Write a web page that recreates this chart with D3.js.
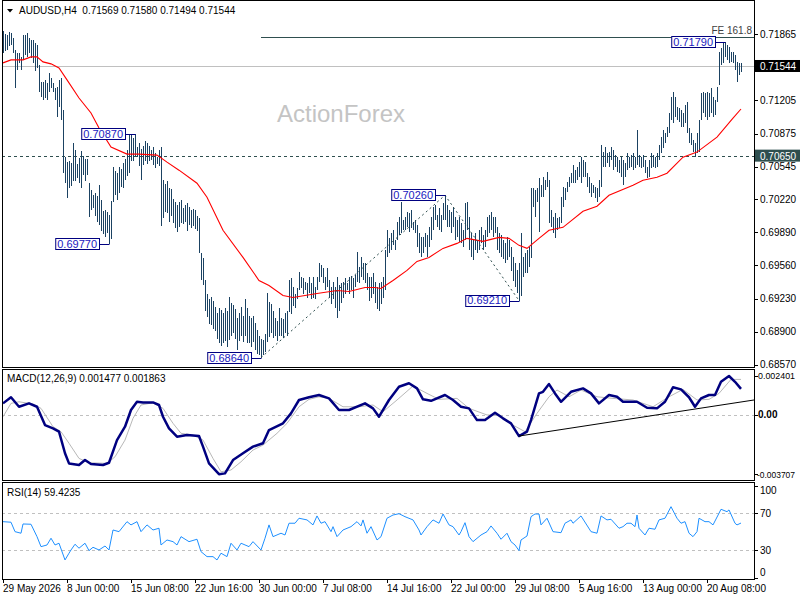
<!DOCTYPE html>
<html><head><meta charset="utf-8">
<script src="https://cdn.jsdelivr.net/npm/d3@7"></script>
<style>
body{margin:0;background:#fff}
svg{display:block}
text{font-family:"Liberation Sans",Arial,sans-serif}
</style>
</head><body>
<svg id="c" width="800" height="600"></svg>
<script>
// ---------------- data ----------------
const symbolLabel = "AUDUSD,H4";
const lastOHLC = [0.71569, 0.71580, 0.71494, 0.71544];
const timeTickIdx = [0, 32, 64, 96, 128, 160, 192, 224, 256, 288, 320, 352];
const timeTickLabels = ["29 May 2026", "8 Jun 00:00", "15 Jun 08:00", "22 Jun 16:00", "30 Jun 00:00", "7 Jul 08:00",
  "14 Jul 16:00", "22 Jul 00:00", "29 Jul 08:00", "5 Aug 16:00", "13 Aug 00:00", "20 Aug 08:00"];
const priceTicks = [0.71865, 0.71205, 0.70875, 0.70545, 0.70220, 0.69890, 0.69560, 0.69230, 0.68900, 0.68570];
const priceRange = [0.68570, 0.71865];

const barHigh = [
0.7190,0.7187,0.7186,0.7189,0.7188,0.7183,0.7171,0.7168,0.7168,0.7164,
0.7186,0.7186,0.7188,0.7183,0.7181,0.7181,0.7178,0.7176,0.7156,0.7139,
0.7139,0.7141,0.7138,0.7148,0.7143,0.7138,0.7133,0.7134,0.7141,0.7143,
0.7111,0.7064,0.7059,0.7060,0.7058,0.7078,0.7071,0.7057,0.7063,0.7070,
0.7065,0.7062,0.7062,0.7038,0.7031,0.7026,0.7028,0.7025,0.7036,0.7021,
0.7010,0.7011,0.7009,0.7006,0.7020,0.7054,0.7050,0.7048,0.7054,0.7052,
0.7058,0.7062,0.7071,0.7086,0.7087,0.7083,0.7087,0.7074,0.7078,0.7072,
0.7075,0.7080,0.7078,0.7075,0.7071,0.7074,0.7068,0.7064,0.7071,0.7074,
0.7041,0.7037,0.7040,0.7033,0.7032,0.7022,0.7019,0.7016,0.7019,0.7021,
0.7013,0.7016,0.7018,0.7014,0.7011,0.7012,0.7011,0.7005,0.7003,0.6968,
0.6963,0.6941,0.6928,0.6923,0.6925,0.6921,0.6915,0.6909,0.6914,0.6912,
0.6909,0.6914,0.6911,0.6925,0.6919,0.6917,0.6913,0.6904,0.6909,0.6915,
0.6906,0.6923,0.6914,0.6906,0.6904,0.6906,0.6899,0.6892,0.6886,0.6883,
0.6882,0.6888,0.6929,0.6920,0.6918,0.6911,0.6904,0.6901,0.6914,0.6904,
0.6903,0.6909,0.6911,0.6941,0.6943,0.6934,0.6928,0.6933,0.6949,0.6944,
0.6943,0.6939,0.6938,0.6944,0.6938,0.6944,0.6934,0.6944,0.6958,0.6956,
0.6953,0.6944,0.6953,0.6941,0.6934,0.6939,0.6934,0.6944,0.6936,0.6938,
0.6939,0.6943,0.6938,0.6944,0.6945,0.6943,0.6946,0.6969,0.6954,0.6964,
0.6958,0.6958,0.6948,0.6944,0.6944,0.6948,0.6939,0.6934,0.6938,0.6939,
0.6944,0.6971,0.6991,0.6983,0.6988,0.6991,0.6981,0.6999,0.7004,0.7019,
0.7001,0.7004,0.7009,0.7008,0.7011,0.6999,0.7001,0.6996,0.6988,0.6984,
0.6984,0.6988,0.6986,0.6994,0.7004,0.7014,0.7016,0.7006,0.7013,0.7006,
0.7018,0.7026,0.7016,0.7011,0.7009,0.7014,0.7004,0.7001,0.7004,0.6998,
0.6991,0.7018,0.7019,0.7004,0.6988,0.6981,0.6988,0.6981,0.6991,0.6994,
0.6986,0.6991,0.7004,0.7006,0.7009,0.7004,0.7004,0.6994,0.6988,0.6986,
0.6981,0.6978,0.6984,0.6981,0.6974,0.6964,0.6958,0.6951,0.6958,0.6988,
0.6964,0.6968,0.6971,0.6974,0.7033,0.7033,0.7031,0.7033,0.7043,0.7036,
0.7044,0.7041,0.7049,0.7041,0.7011,0.7004,0.7008,0.7003,0.7004,0.7024,
0.7034,0.7033,0.7039,0.7044,0.7048,0.7056,0.7051,0.7054,0.7059,0.7064,
0.7061,0.7059,0.7048,0.7044,0.7038,0.7036,0.7034,0.7033,0.7041,0.7076,
0.7069,0.7074,0.7068,0.7069,0.7074,0.7071,0.7066,0.7064,0.7061,0.7064,
0.7061,0.7058,0.7068,0.7064,0.7066,0.7068,0.7064,0.7091,0.7066,0.7064,
0.7066,0.7061,0.7054,0.7061,0.7068,0.7066,0.7064,0.7068,0.7076,0.7084,
0.7091,0.7088,0.7094,0.7108,0.7124,0.7129,0.7124,0.7114,0.7113,0.7111,
0.7108,0.7116,0.7119,0.7093,0.7088,0.7081,0.7078,0.7088,0.7101,0.7128,
0.7129,0.7128,0.7129,0.7128,0.7133,0.7124,0.7121,0.7134,0.7169,0.7173,
0.7178,0.7179,0.7176,0.7174,0.7169,0.7169,0.7166,0.7159,0.7158,0.7158];

const barLow = [
0.7168,0.7170,0.7171,0.7175,0.7176,0.7168,0.7133,0.7151,0.7158,0.7151,
0.7161,0.7166,0.7164,0.7168,0.7163,0.7158,0.7150,0.7153,0.7129,0.7124,
0.7121,0.7123,0.7121,0.7129,0.7133,0.7129,0.7121,0.7104,0.7114,0.7101,
0.7048,0.7038,0.7023,0.7033,0.7035,0.7040,0.7040,0.7043,0.7038,0.7033,
0.7046,0.7040,0.7046,0.7004,0.7011,0.7013,0.7005,0.6999,0.6996,0.6990,
0.6987,0.6984,0.6988,0.6977,0.6982,0.7019,0.7026,0.7021,0.7028,0.7034,
0.7033,0.7041,0.7045,0.7048,0.7060,0.7060,0.7065,0.7064,0.7055,0.7041,
0.7056,0.7060,0.7057,0.7060,0.7061,0.7056,0.7053,0.7057,0.7055,0.6995,
0.7003,0.7009,0.7008,0.6999,0.7005,0.6998,0.6993,0.6989,0.6994,0.6998,
0.6997,0.6999,0.6990,0.6996,0.6993,0.6995,0.6992,0.6990,0.6968,0.6941,
0.6936,0.6911,0.6905,0.6898,0.6897,0.6893,0.6891,0.6883,0.6879,0.6876,
0.6879,0.6881,0.6875,0.6882,0.6886,0.6889,0.6883,0.6872,0.6881,0.6886,
0.6880,0.6886,0.6879,0.6879,0.6875,0.6880,0.6872,0.6868,0.6867,0.6864,
0.6867,0.6870,0.6880,0.6885,0.6889,0.6884,0.6886,0.6881,0.6886,0.6886,
0.6884,0.6889,0.6886,0.6910,0.6908,0.6916,0.6914,0.6923,0.6931,0.6933,
0.6928,0.6931,0.6924,0.6929,0.6923,0.6924,0.6923,0.6931,0.6939,0.6944,
0.6938,0.6931,0.6934,0.6924,0.6918,0.6923,0.6914,0.6904,0.6911,0.6919,
0.6924,0.6928,0.6931,0.6928,0.6931,0.6924,0.6934,0.6939,0.6938,0.6944,
0.6941,0.6938,0.6931,0.6921,0.6924,0.6928,0.6919,0.6913,0.6911,0.6918,
0.6924,0.6931,0.6964,0.6968,0.6971,0.6976,0.6971,0.6981,0.6986,0.6988,
0.6991,0.6991,0.6994,0.6989,0.6993,0.6991,0.6988,0.6974,0.6968,0.6964,
0.6968,0.6974,0.6964,0.6974,0.6981,0.6991,0.7001,0.6994,0.6991,0.6989,
0.7001,0.7001,0.6994,0.6994,0.6988,0.6994,0.6981,0.6984,0.6979,0.6978,
0.6974,0.6981,0.6991,0.6971,0.6964,0.6961,0.6971,0.6968,0.6971,0.6978,
0.6971,0.6974,0.6984,0.6988,0.6991,0.6984,0.6988,0.6971,0.6968,0.6964,
0.6962,0.6958,0.6961,0.6964,0.6950,0.6940,0.6934,0.6929,0.6921,0.6926,
0.6944,0.6948,0.6948,0.6954,0.6963,0.7014,0.7004,0.7019,0.6989,0.7024,
0.7024,0.7031,0.7034,0.6998,0.6994,0.6988,0.6983,0.6991,0.6993,0.6998,
0.7014,0.7021,0.7029,0.7034,0.7038,0.7038,0.7038,0.7041,0.7044,0.7038,
0.7044,0.7044,0.7034,0.7028,0.7024,0.7028,0.7023,0.7019,0.7024,0.7034,
0.7054,0.7054,0.7058,0.7054,0.7061,0.7051,0.7054,0.7049,0.7048,0.7044,
0.7036,0.7044,0.7051,0.7053,0.7054,0.7051,0.7053,0.7056,0.7054,0.7053,
0.7054,0.7048,0.7043,0.7044,0.7053,0.7054,0.7053,0.7054,0.7061,0.7068,
0.7073,0.7078,0.7084,0.7088,0.7101,0.7098,0.7104,0.7101,0.7099,0.7094,
0.7094,0.7098,0.7088,0.7078,0.7076,0.7069,0.7064,0.7068,0.7069,0.7101,
0.7108,0.7104,0.7101,0.7104,0.7108,0.7104,0.7106,0.7119,0.7136,0.7156,
0.7158,0.7164,0.7161,0.7158,0.7159,0.7158,0.7151,0.7139,0.7146,0.7149];

// moving average (red), read at selected bars
const maIdx = [0,4,10,14,17,20,24,28,32,38,44,48,54,62,68,77,82,88,97,102,110,120,128,133,140,145,157,167,173,181,186,189,195,202,207,213,220,227,232,240,248,253,258,262,268,273,280,290,297,303,315,320,327,332,340,347,357,365,369];
const maVal = [0.7158,0.7161,0.7161,0.7164,0.7164,0.7159,0.7157,0.7153,0.7141,0.7123,0.7108,0.7093,0.7074,0.7067,0.7067,0.7066,0.7059,0.7051,0.7038,0.7024,0.6991,0.6964,0.6941,0.6936,0.6926,0.6924,0.6928,0.6931,0.6930,0.6934,0.6934,0.6933,0.6941,0.6951,0.6960,0.6964,0.6973,0.6978,0.6983,0.6980,0.6984,0.6983,0.6976,0.6973,0.6983,0.6991,0.6994,0.7010,0.7015,0.7026,0.7036,0.7041,0.7044,0.7048,0.7064,0.7069,0.7084,0.7103,0.7112];

// swing labels and zigzag
const pivotIdx = [66, 53, 129, 221, 258, 361];
const pivotVal = [0.70870, 0.69770, 0.68640, 0.70260, 0.69210, 0.71790];
const zigzagIdx = [129, 221, 258];
const zigzagVal = [0.68640, 0.70260, 0.69210];
const feLevel = 0.7184, feStartIdx = 129, feLabel = "FE 161.8";
const supportLevel = 0.70650;
const bidPrice = 0.71544;

// MACD(12,26,9)
const macdRange = [-0.003707, 0.002401];
const macdIdx = [0,4,8,13,17,21,25,28,31,33,38,41,44,50,53,57,61,64,67,70,75,78,80,83,87,92,98,100,103,108,111,115,120,125,130,133,140,144,148,153,158,163,168,173,181,185,188,193,198,203,207,210,214,221,225,229,233,237,241,246,250,254,258,262,264,268,270,273,276,279,284,290,294,298,303,307,310,317,322,327,331,335,339,343,346,349,353,356,359,363,366,369];
const macdVal = [0.00070,0.00108,0.00049,0.00070,0.00049,-0.00065,-0.00085,-0.00106,-0.00240,-0.00303,-0.00313,-0.00282,-0.00307,-0.00313,-0.00299,-0.00158,-0.00075,0.00029,0.00080,0.00076,0.00076,0.00060,-0.00013,-0.00085,-0.00137,-0.00127,-0.00133,-0.00199,-0.00303,-0.00370,-0.00365,-0.00282,-0.00240,-0.00199,-0.00178,-0.00096,-0.00054,0.00008,0.00091,0.00108,0.00122,0.00101,0.00029,0.00029,0.00070,0.00039,-0.00013,0.00091,0.00173,0.00195,0.00163,0.00095,0.00086,0.00122,0.00091,0.00049,0.00039,-0.00034,-0.00034,0.00012,-0.00023,-0.00054,-0.00133,-0.00106,-0.00034,0.00132,0.00142,0.00190,0.00132,0.00080,0.00142,0.00163,0.00132,0.00070,0.00122,0.00111,0.00080,0.00080,0.00043,0.00039,0.00080,0.00170,0.00157,0.00108,0.00049,0.00101,0.00122,0.00122,0.00204,0.00240,0.00204,0.00160];
const sigIdx = [0,4,8,15,19,25,29,33,38,43,52,56,61,65,69,75,80,85,89,95,100,105,109,114,119,125,130,137,142,148,153,158,163,170,178,185,190,197,205,212,218,227,233,242,248,255,261,267,273,277,283,289,297,305,315,325,333,340,347,353,358,364,369];
const sigVal = [-0.00013,0.00070,0.00080,0.00066,0.00039,-0.00075,-0.00106,-0.00178,-0.00272,-0.00299,-0.00303,-0.00262,-0.00158,-0.00023,0.00060,0.00074,0.00039,-0.00054,-0.00116,-0.00127,-0.00158,-0.00272,-0.00355,-0.00344,-0.00293,-0.00220,-0.00189,-0.00116,-0.00054,0.00049,0.00095,0.00111,0.00101,0.00049,0.00049,0.00060,0.00018,0.00091,0.00178,0.00132,0.00095,0.00101,0.00039,-0.00002,-0.00002,-0.00065,-0.00106,0.00008,0.00111,0.00153,0.00111,0.00153,0.00111,0.00101,0.00091,0.00049,0.00111,0.00157,0.00091,0.00095,0.00132,0.00219,0.00219];
const macdTrendIdx = [258, 375.5];
const macdTrendVal = [-0.00133, 0.00091];
const macdHeader = "MACD(12,26,9) 0.001477 0.001863";

// RSI(14)
const rsiIdx = [0,4,6,9,10,14,17,19,22,24,26,28,31,33,34,36,38,41,43,45,48,51,53,55,58,62,64,67,69,72,75,78,79,82,85,87,89,93,97,99,102,105,107,109,112,114,117,119,123,125,129,131,133,135,139,141,143,146,148,152,155,157,159,161,164,165,167,170,174,177,179,180,182,184,187,189,192,195,198,201,205,208,209,212,215,218,220,223,225,228,229,231,233,235,239,242,244,247,249,252,254,256,258,259,262,264,266,268,269,272,275,279,281,284,285,289,294,297,299,302,304,308,310,312,314,316,317,318,321,323,326,328,331,334,337,339,341,343,345,347,348,351,353,355,358,359,362,363,366,367,369];
const rsiVal = [60.9,60.3,50.1,48.4,58.4,58.1,44.7,33.9,35.7,43.0,35.7,37.6,19.5,26.8,30.3,36.5,32.2,37.6,29.6,33.2,30.3,34.6,30.3,51.9,50.1,60.9,57.4,60.9,50.1,57.4,51.9,53.8,35.7,41.1,39.3,35.7,44.7,39.3,41.9,28.5,23.1,23.1,19.5,26.8,23.1,37.6,30.3,37.6,33.9,39.3,30.3,43.0,57.4,44.7,48.4,46.5,59.2,59.2,64.6,62.8,57.4,67.1,59.2,60.9,50.1,55.5,44.7,51.9,55.5,60.9,56.3,62.8,48.4,55.5,41.1,44.7,64.6,68.1,69.5,66.3,62.8,51.9,46.5,55.5,62.8,59.2,69.2,57.4,55.5,46.5,50.1,59.8,44.7,39.3,46.5,50.1,56.3,48.4,41.9,48.4,39.3,35.7,29.6,41.1,45.4,66.3,69.2,69.2,57.4,64.6,50.1,49.0,59.2,62.8,59.2,67.1,50.1,48.4,67.1,62.8,63.5,53.8,55.5,59.2,59.2,55.5,68.1,53.8,46.5,53.8,52.7,62.8,64.6,77.1,64.6,59.2,60.9,48.4,44.7,50.1,64.6,60.9,60.9,57.4,70.0,74.3,71.7,73.6,59.2,57.4,59.4];
const rsiLevels = [70, 30];
const rsiTicks = [100, 70, 30, 0];
const rsiHeader = "RSI(14) 59.4235";

// ---------------- drawing ----------------
const svg = d3.select("#c");
const L = 2, R = 754;
const nBars = barHigh.length;
const x = d3.scaleLinear().domain([0, nBars - 1]).range([3, 3 + 2 * (nBars - 1)]);
const yP = d3.scaleLinear().domain(priceRange).range([364.7, 34.3]);
const yM = d3.scaleLinear().domain(macdRange).range([474.3, 376]);
const yR = d3.scaleLinear().domain([0, 100]).range([578, 485.5]);
const crisp = v => Math.round(v) + 0.5;
const barColor = "#1b4262";
const axisFont = 10;

svg.append("rect").attr("width", 800).attr("height", 600).attr("fill", "#fff");

// watermark
svg.append("text").attr("x", 277).attr("y", 121.5).attr("font-size", 24)
  .attr("fill", "#c4c4c4").text("ActionForex");

// header
svg.append("path").attr("d", "M7,9L13,9L10,12.5Z").attr("fill", "#000");
svg.append("text").attr("x", 19).attr("y", 14).attr("font-size", axisFont).attr("fill", "#000")
  .attr("xml:space", "preserve")
  .text(symbolLabel + "  " + lastOHLC.map(v => v.toFixed(5)).join(" "));

// main panel horizontal lines
svg.append("line").attr("x1", L).attr("x2", R)
  .attr("y1", crisp(yP(bidPrice))).attr("y2", crisp(yP(bidPrice)))
  .attr("stroke", "#c0c0c0").attr("stroke-width", 1);
svg.append("line").attr("x1", L).attr("x2", R)
  .attr("y1", crisp(yP(supportLevel))).attr("y2", crisp(yP(supportLevel)))
  .attr("stroke", "#2f4f4f").attr("stroke-width", 1).attr("stroke-dasharray", "3,3");
svg.append("line").attr("x1", x(feStartIdx)).attr("x2", R)
  .attr("y1", crisp(yP(feLevel))).attr("y2", crisp(yP(feLevel)))
  .attr("stroke", "#2f4f4f").attr("stroke-width", 1);
svg.append("text").attr("x", 752).attr("y", yP(feLevel) - 3).attr("text-anchor", "end")
  .attr("font-size", axisFont).attr("fill", "#404040").text(feLabel);

// bars
svg.append("g").attr("shape-rendering", "crispEdges").selectAll("line")
  .data(d3.range(nBars)).join("line")
  .attr("x1", i => crisp(x(i))).attr("x2", i => crisp(x(i)))
  .attr("y1", i => Math.round(yP(barHigh[i])))
  .attr("y2", i => Math.max(Math.round(yP(barLow[i])), Math.round(yP(barHigh[i])) + 1))
  .attr("stroke", barColor).attr("stroke-width", 1);

// moving average
const maPts = maIdx.map((d, k) => [d, maVal[k]]);
svg.append("path").datum(maPts)
  .attr("d", d3.line().x(d => x(d[0])).y(d => yP(d[1])))
  .attr("fill", "none").attr("stroke", "#ff0000").attr("stroke-width", 1.1);

// zigzag
const zzPts = zigzagIdx.map((d, k) => [d, zigzagVal[k]]);
svg.append("path").datum(zzPts)
  .attr("d", d3.line().x(d => x(d[0])).y(d => yP(d[1])))
  .attr("fill", "none").attr("stroke", "#2f4f4f").attr("stroke-width", 1).attr("stroke-dasharray", "2,3");

// pivot labels
pivotIdx.forEach((pi, k) => {
  const bx = x(pi), by = yP(pivotVal[k]);
  const g = svg.append("g");
  const t = g.append("text").attr("font-size", 11).attr("fill", "#2020c0")
    .attr("text-anchor", "end").attr("dy", "0.36em").text(pivotVal[k].toFixed(5));
  const tw = t.node().getComputedTextLength();
  const right = Math.round(bx - 10);
  t.attr("x", right - 2).attr("y", by);
  g.insert("rect", "text").attr("x", right - tw - 4 + 0.5).attr("y", Math.round(by - 6) + 0.5)
    .attr("width", tw + 4).attr("height", 11).attr("fill", "#fff")
    .attr("stroke", "#000080").attr("stroke-width", 1);
  g.append("line").attr("x1", right + 0.5).attr("x2", crisp(bx))
    .attr("y1", crisp(by)).attr("y2", crisp(by)).attr("stroke", "#000080").attr("stroke-width", 1);
});

// MACD panel
svg.append("line").attr("x1", L).attr("x2", R).attr("y1", crisp(yM(0))).attr("y2", crisp(yM(0)))
  .attr("stroke", "#c0c0c0").attr("stroke-dasharray", "3,3");
const sigPts = sigIdx.map((d, k) => [d, sigVal[k]]);
const macdPts = macdIdx.map((d, k) => [d, macdVal[k]]);
const lineM = d3.line().x(d => x(d[0])).y(d => yM(d[1]));
svg.append("path").datum(sigPts).attr("d", lineM).attr("fill", "none")
  .attr("stroke", "#b8b8b8").attr("stroke-width", 1);
svg.append("path").datum(macdPts).attr("d", lineM).attr("fill", "none")
  .attr("stroke", "#000080").attr("stroke-width", 2.5).attr("stroke-linejoin", "round");
svg.append("path").datum(macdTrendIdx.map((d, k) => [d, macdTrendVal[k]])).attr("d", lineM)
  .attr("fill", "none").attr("stroke", "#000").attr("stroke-width", 1);
svg.append("text").attr("x", 7).attr("y", 382).attr("font-size", axisFont).text(macdHeader);

// RSI panel
rsiLevels.forEach(v => {
  svg.append("line").attr("x1", L).attr("x2", R).attr("y1", crisp(yR(v))).attr("y2", crisp(yR(v)))
    .attr("stroke", "#c0c0c0").attr("stroke-dasharray", "3,3");
});
const rsiPts = rsiIdx.map((d, k) => [d, rsiVal[k]]);
svg.append("path").datum(rsiPts).attr("d", d3.line().x(d => x(d[0])).y(d => yR(d[1])))
  .attr("fill", "none").attr("stroke", "#1e90ff").attr("stroke-width", 1);
svg.append("text").attr("x", 7).attr("y", 496).attr("font-size", axisFont).text(rsiHeader);

// panel borders
[[0, 367], [369, 480], [482, 579]].forEach(([t, b]) => {
  svg.append("rect").attr("x", L + 0.5).attr("y", t + 0.5).attr("width", R - L).attr("height", b - t)
    .attr("fill", "none").attr("stroke", "#000").attr("stroke-width", 1);
});

// price axis
const axisG = svg.append("g");
priceTicks.forEach(v => {
  const yy = yP(v);
  axisG.append("line").attr("x1", R).attr("x2", R + 4).attr("y1", crisp(yy)).attr("y2", crisp(yy)).attr("stroke", "#000");
  axisG.append("text").attr("x", 760).attr("y", yy).attr("dy", "0.35em").attr("font-size", axisFont).text(v.toFixed(5));
});
function priceTag(v, bg) {
  const yy = yP(v);
  axisG.append("rect").attr("x", 755).attr("y", yy - 6.5).attr("width", 45).attr("height", 12).attr("fill", bg);
  axisG.append("text").attr("x", 760).attr("y", yy).attr("dy", "0.35em").attr("font-size", axisFont)
    .attr("fill", "#fff").text(v.toFixed(5));
}
priceTag(bidPrice, "#000");
priceTag(supportLevel, "#2f4f4f");

// MACD axis
[macdRange[1], 0, macdRange[0]].forEach(v => {
  const yy = yM(v);
  axisG.append("line").attr("x1", R).attr("x2", R + 4).attr("y1", crisp(yy)).attr("y2", crisp(yy)).attr("stroke", "#000");
  const t = axisG.append("text").attr("x", v < 0 ? 757 : 758).attr("y", yy).attr("dy", "0.35em")
    .attr("font-size", v === 0 ? axisFont : 9.5)
    .attr("font-weight", v === 0 ? "bold" : "normal").text(v === 0 ? "0.00" : v.toFixed(6));
  if (v !== 0) t.attr("textLength", v < 0 ? 38 : 37).attr("lengthAdjust", "spacingAndGlyphs");
});
// RSI axis
rsiTicks.forEach(v => {
  const yy = Math.max(490.5, Math.min(572, yR(v)));
  axisG.append("line").attr("x1", R).attr("x2", R + 4).attr("y1", crisp(yR(v))).attr("y2", crisp(yR(v))).attr("stroke", "#000");
  axisG.append("text").attr("x", 760).attr("y", yy).attr("dy", "0.35em").attr("font-size", axisFont).text(v);
});

// time axis
timeTickIdx.forEach((ti, k) => {
  const xx = x(ti);
  axisG.append("line").attr("x1", crisp(xx)).attr("x2", crisp(xx)).attr("y1", 580).attr("y2", 583).attr("stroke", "#000");
  axisG.append("text").attr("x", k === 0 ? 3 : xx).attr("y", 592).attr("font-size", axisFont).text(timeTickLabels[k]);
});
</script>
</body></html>
